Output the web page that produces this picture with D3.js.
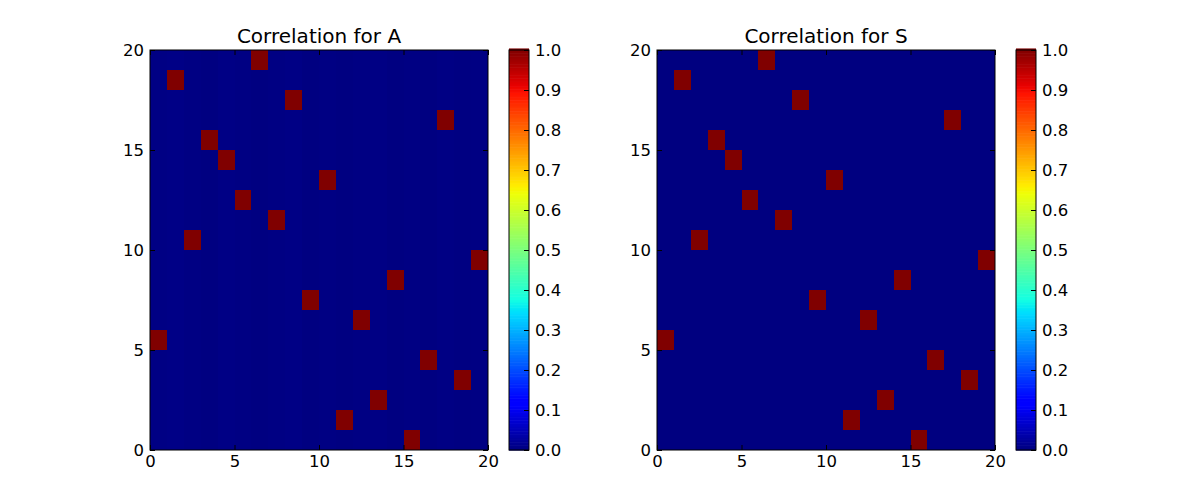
<!DOCTYPE html>
<html>
<head>
<meta charset="utf-8">
<script src="https://cdn.jsdelivr.net/npm/d3@7"></script>
<style>
  body { margin: 0; background: #fff; }
  text { font-family: "DejaVu Sans", sans-serif; fill: #000; }
</style>
</head>
<body>
<div id="chart"></div>
<script>
const svgWidth = 1200
const svgHeight = 500

// grid size and the permutation: row -> column holding the 1.0 cell
const n = 20
const permA = [15, 11, 13, 18, 16, 0, 12, 9, 14, 19, 2, 7, 5, 10, 4, 3, 17, 8, 1, 6]
const permS = [15, 11, 13, 18, 16, 0, 12, 9, 14, 19, 2, 7, 5, 10, 4, 3, 17, 8, 1, 6]

// faint background level per column (A shows very slight stripes, S is flat)
const noiseA = [0.004, 0.006, 0.003, 0.001, 0.005, 0.003, 0.001, 0.003, 0.005, 0.001,
                0.003, 0.001, 0.003, 0.004, 0.001, 0.003, 0.001, 0.004, 0.002, 0.003]
const noiseS = [0, 0, 0, 0, 0, 0, 0, 0, 0, 0, 0, 0, 0, 0, 0, 0, 0, 0, 0, 0]

const axisTicks = [0, 5, 10, 15, 20]
const cbarTicks = [0.0, 0.1, 0.2, 0.3, 0.4, 0.5, 0.6, 0.7, 0.8, 0.9, 1.0]

const panels = [
  { title: "Correlation for A", perm: permA, noise: noiseA, left: 150 },
  { title: "Correlation for S", perm: permS, noise: noiseS, left: 657 }
]

// matplotlib "jet"
const jetR = d3.scaleLinear().domain([0, 0.35, 0.66, 0.89, 1]).range([0, 0, 1, 1, 0.5]).clamp(true)
const jetG = d3.scaleLinear().domain([0, 0.125, 0.375, 0.64, 0.91, 1]).range([0, 0, 1, 1, 0, 0]).clamp(true)
const jetB = d3.scaleLinear().domain([0, 0.11, 0.34, 0.65, 1]).range([0.5, 1, 1, 0, 0]).clamp(true)
function jet(v) {
  return d3.rgb(jetR(v) * 255, jetG(v) * 255, jetB(v) * 255).toString()
}

const svg = d3.select("#chart").append("svg")
  .attr("width", svgWidth)
  .attr("height", svgHeight)

const axTop = 50, axBottom = 450, axW = 338
const cbGap = 21, cbW = 20
const tickFont = 16.5

panels.forEach(p => {
  const x = d3.scaleLinear().domain([0, n]).range([p.left, p.left + axW])
  const y = d3.scaleLinear().domain([0, n]).range([axBottom, axTop])

  let cells = []
  for (let r = 0; r < n; r++) {
    for (let c = 0; c < n; c++) {
      cells.push({ r, c, v: p.perm[r] === c ? 1 : p.noise[c] })
    }
  }

  const g = svg.append("g")
  g.selectAll("rect.cell")
    .data(cells)
    .enter()
    .append("rect")
    .classed("cell", true)
    .attr("x", d => x(d.c))
    .attr("y", d => y(d.r + 1))
    .attr("width", x(1) - x(0) + 0.3)
    .attr("height", y(0) - y(1) + 0.3)
    .attr("fill", d => jet(d.v))
    .attr("shape-rendering", "crispEdges")

  // axes, ticks inward on all sides
  g.append("g")
    .attr("transform", `translate(0, ${axBottom})`)
    .call(d3.axisBottom(x).tickValues(axisTicks).tickSize(-5).tickPadding(5).tickFormat(d3.format("d")))
  g.append("g")
    .attr("transform", `translate(0, ${axTop})`)
    .call(d3.axisTop(x).tickValues(axisTicks).tickSize(-5).tickFormat(""))
  g.append("g")
    .attr("transform", `translate(${p.left}, 0)`)
    .call(d3.axisLeft(y).tickValues(axisTicks).tickSize(-5).tickPadding(6).tickFormat(d3.format("d")))
  g.append("g")
    .attr("transform", `translate(${p.left + axW}, 0)`)
    .call(d3.axisRight(y).tickValues(axisTicks).tickSize(-5).tickFormat(""))

  g.selectAll(".domain").remove()
  g.append("rect")
    .attr("x", p.left).attr("y", axTop)
    .attr("width", axW).attr("height", axBottom - axTop)
    .attr("fill", "none").attr("stroke", "#000").attr("stroke-width", 1)

  g.selectAll(".tick text").attr("font-size", tickFont).attr("font-family", "DejaVu Sans")
  g.selectAll(".tick line").attr("stroke", "#000")

  g.append("text")
    .attr("x", p.left + axW / 2)
    .attr("y", axTop - 7)
    .attr("text-anchor", "middle")
    .attr("font-size", 20)
    .text(p.title)

  // colorbar
  const cbX = p.left + axW + cbGap
  const cy = d3.scaleLinear().domain([0, 1]).range([axBottom, axTop])
  const steps = d3.range(0, 256).map(i => i / 255)
  const cb = svg.append("g")
  cb.selectAll("rect.cb")
    .data(steps)
    .enter()
    .append("rect")
    .classed("cb", true)
    .attr("x", cbX)
    .attr("y", d => cy(d) - (axBottom - axTop) / 256)
    .attr("width", cbW)
    .attr("height", (axBottom - axTop) / 256 + 0.6)
    .attr("fill", d => jet(d))

  cb.append("g")
    .attr("transform", `translate(${cbX + cbW}, 0)`)
    .call(d3.axisRight(cy).tickValues(cbarTicks).tickSize(-5).tickPadding(6).tickFormat(d3.format(".1f")))
    .call(a => a.select(".domain").remove())
    .call(a => a.selectAll(".tick text").attr("font-size", tickFont).attr("font-family", "DejaVu Sans"))
    .call(a => a.selectAll(".tick line").attr("stroke", "#000"))

  cb.append("rect")
    .attr("x", cbX).attr("y", axTop)
    .attr("width", cbW).attr("height", axBottom - axTop)
    .attr("fill", "none").attr("stroke", "#000").attr("stroke-width", 1)
})
</script>
</body>
</html>
